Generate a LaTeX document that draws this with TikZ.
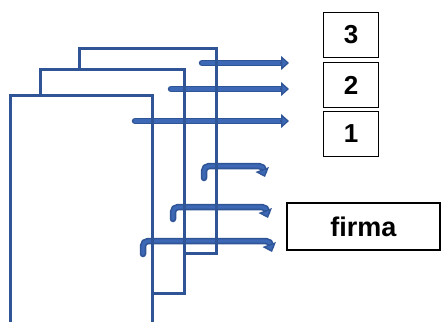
\documentclass[tikz,border=0pt]{standalone}
\usepackage{fontspec}
\setmainfont{Liberation Sans}
\usetikzlibrary{arrows.meta}

\definecolor{sheetblue}{RGB}{47,85,151}
\definecolor{flowblue}{RGB}{61,104,181}

\tikzset{
  sheet/.style={draw=sheetblue, line width=3pt},
  tabbox/.style={draw=black, line width=1.4pt, inner sep=0pt,
    minimum width=55pt, minimum height=45pt,
    font=\fontsize{26}{28}\selectfont\bfseries},
  flowout/.style={draw=sheetblue, line width=6.5pt, line cap=round,
    rounded corners=5pt},
  flowin/.style={draw=flowblue, line width=3.3pt, line cap=round,
    rounded corners=5pt},
  flowhead/.style={draw=sheetblue, line width=1.3pt,
    -{Triangle[length=8pt,width=14pt,fill=flowblue]}},
}

\begin{document}
\begin{tikzpicture}[x=1pt, y=-1pt]
\useasboundingbox (0,0) rectangle (441,321);

% tabs on the right
\node[tabbox] (tab3) at (351,35)  {3};
\node[tabbox] (tab2) at (351,85)  {2};
\node[tabbox] (tab1) at (351,134) {1};
\node[tabbox, minimum width=153pt, minimum height=47pt,
  font=\fontsize{27}{29}\selectfont\bfseries] (firma) at (363.5,226.5) {firma};

% straight arrows
\foreach \n/\s/\y in {3/202/63, 2/171/89, 1/135/121} {
  \coordinate (from\n) at (\s,\y);
  \coordinate (to\n) at (289,\y);
  \draw[flowout] (from\n) -- (282,\y);
  \draw[flowin] (from\n) -- (282,\y);
  \draw[flowhead] (280,\y) -- (to\n);
}

% bent arrows
\foreach \n/\s/\b/\t/\e/\h in {a/204/178/166/264/177, b/173/219/207/267/218, c/143/254/241/271/252} {
  \coordinate (foot\n) at (\s,\b);
  \coordinate (tip\n) at (\e+1,\h);
  \draw[flowout] (foot\n) |- (\e,\t) -- (\e,\h-6);
  \draw[flowin] (foot\n) |- (\e,\t) -- (\e,\h-6);
  \draw[flowhead] (\e-2,\h-8) -- (tip\n);
}

% sheets, back to front
\draw[sheet]
       (79,69)
  -- ++(0,-20)
  -- ++(137,0)
  -- ++(0,204)
  -- ++(-32,0);
\draw[sheet]
       (40,95)
  -- ++(0,-26)
  -- ++(144,0)
  -- ++(0,224)
  -- ++(-32,0);
\draw[sheet]
       (10,322)
  -- ++(0,-227)
  -- ++(142,0)
  -- ++(0,227);
\end{tikzpicture}
\end{document}
